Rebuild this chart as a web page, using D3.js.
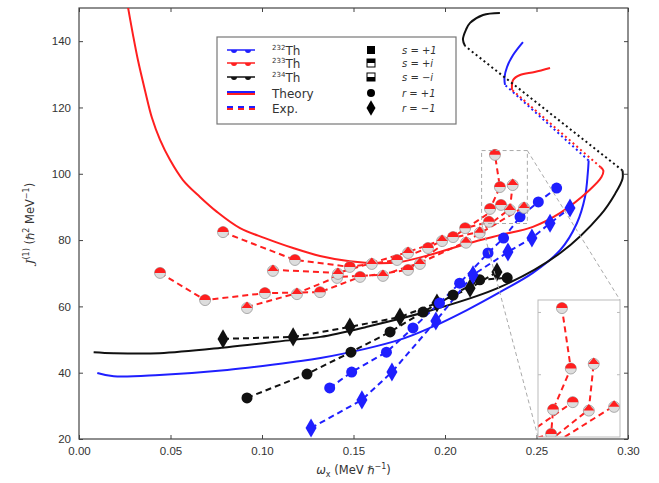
<!DOCTYPE html>
<html><head><meta charset="utf-8">
<script src="https://cdn.jsdelivr.net/npm/d3@7"></script>
<style>body{margin:0;background:#fff}svg{display:block;font-family:"DejaVu Sans",sans-serif}</style>
</head><body><svg id="chart" width="659" height="483"></svg>
<script>
// ---- axis ticks ----
const xTickValues = [0.00, 0.05, 0.10, 0.15, 0.20, 0.25, 0.30];
const yTickValues = [20, 40, 60, 80, 100, 120, 140];

// ---- theory curves: lower branch, unstable (dotted) branch, upper branch ----
const th232Low = [[0.010,39.9],[0.019,38.9],[0.044,39.3],[0.081,40.8],[0.117,43.2],[0.132,44.4],[0.175,49.9],[0.193,53.8],[0.212,58.9],[0.230,64.3],[0.248,70.1],[0.263,77.0],[0.272,85.0],[0.2765,93.0],[0.278,100.0],[0.2785,104.0]];
const th232Mid = [[0.2785,104.0],[0.2328,126.8]];
const th232Up  = [[0.2328,126.8],[0.2325,129.0],[0.2339,132.2],[0.2372,135.8],[0.2426,139.7]];

const th233Low = [[0.0262,152],[0.0295,141.9],[0.0322,134.3],[0.036,125.3],[0.0399,116.8],[0.0443,110.2],[0.0497,104.2],[0.0568,98.1],[0.0661,93.0],[0.0754,88.5],[0.088,83.6],[0.1016,80.6],[0.117,77.6],[0.1317,75.2],[0.148,73.6],[0.164,73.0],[0.1754,73.4],[0.1934,75.8],[0.212,78.9],[0.230,81.5],[0.248,84.0],[0.263,88.2],[0.279,95.1],[0.2855,99.0],[0.2865,101.0],[0.285,102.0]];
const th233Mid = [[0.285,102.0],[0.2366,125.3]];
const th233Up  = [[0.2366,125.3],[0.2372,128.3],[0.241,129.8],[0.249,130.7],[0.2574,131.9]];

const th234Low = [[0.008,46.2],[0.019,45.9],[0.044,45.9],[0.081,47.7],[0.117,49.9],[0.132,50.8],[0.157,53.8],[0.193,58.9],[0.230,65.8],[0.263,76.1],[0.285,87.6],[0.293,94.0],[0.297,98.5],[0.297,101.0]];
const th234Mid = [[0.297,101.0],[0.211,138.5]];
const th234Up  = [[0.211,138.5],[0.2098,140.5],[0.2115,143.5],[0.2137,145.5],[0.2208,147.9],[0.230,148.5]];

// ---- experimental bands ----
const exp232Rp = [[0.137,35.4],[0.149,40.2],[0.168,46.2],[0.1825,53.5],[0.197,61.0],[0.208,67.0],[0.2235,76.1],[0.232,80.6],[0.241,87.0],[0.251,91.5],[0.261,95.7]];
const exp232Rm = [[0.1268,23.3],[0.1546,31.8],[0.171,40.2],[0.195,55.6],[0.2153,69.5],[0.2344,76.4],[0.2475,80.6],[0.2574,85.1],[0.2683,89.7]];

const exp233aP = [[0.0787,82.4],[0.118,74.0],[0.148,71.9],[0.1738,74.0],[0.1907,77.6],[0.211,83.6],[0.224,85.5],[0.2246,89.4],[0.230,96.0],[0.2273,105.7]];
const exp233aM = [[0.106,71.0],[0.1415,70.1],[0.160,73.1],[0.1798,76.4],[0.1984,80.0],[0.219,82.5],[0.2355,89.4],[0.237,96.9]];
const exp233bP = [[0.0443,70.1],[0.0689,61.9],[0.1016,64.0],[0.1317,64.3],[0.1536,68.9],[0.1798,71.0],[0.2044,80.9],[0.2306,90.6]];
const exp233bM = [[0.0918,59.8],[0.1191,64.0],[0.141,68.9],[0.1661,69.5],[0.1863,73.1],[0.2115,79.5],[0.2432,90.0]];

const exp234Rp = [[0.0918,32.4],[0.1246,39.6],[0.1486,46.2],[0.170,52.3],[0.188,58.3],[0.2044,63.4],[0.219,68.0],[0.234,68.6]];
const exp234Rm = [[0.0787,50.2],[0.117,50.8],[0.148,53.8],[0.1754,56.8],[0.1956,61.0],[0.2137,65.5],[0.2284,70.4]];

// ---- legend ----
const isotopeMass = ["232", "233", "234"];
const styleNames = ["Theory", "Exp."];
const quantumLabels = ["s = +1", "s = +i", "s = −i", "r = +1", "r = −1"];

// ---- zoomed window ----
const insetX = [0.220, 0.245];
const insetY = [85, 107];

const BLUE = "#1f1fff", RED = "#ff1f1f", BLACK = "#111";
const svg = d3.select("#chart");
const W = 659, H = 483;
const M = {left: 79, right: 31, top: 8, bottom: 44};
const x = d3.scaleLinear().domain([0, 0.30]).range([M.left, W - M.right]);
const y = d3.scaleLinear().domain([20, 150]).range([H - M.bottom, M.top]);

svg.append("clipPath").attr("id", "plotclip").append("rect")
  .attr("x", M.left).attr("y", M.top).attr("width", W - M.left - M.right).attr("height", H - M.top - M.bottom);

// axes with inward ticks on all four sides
const axisColor = "#444";
function styleAxis(g) {
  g.select(".domain").remove();
  g.selectAll("line").attr("stroke", axisColor);
  g.selectAll("text").attr("fill", "#333").attr("font-size", 11.5);
}
svg.append("g").attr("transform", `translate(0,${y(20)})`)
  .call(d3.axisBottom(x).tickValues(xTickValues).tickFormat(d3.format(".2f")).tickSizeInner(-4).tickPadding(8))
  .call(styleAxis);
svg.append("g").attr("transform", `translate(0,${y(150)})`)
  .call(d3.axisTop(x).tickValues(xTickValues).tickFormat("").tickSizeInner(-4)).call(styleAxis);
svg.append("g").attr("transform", `translate(${x(0)},0)`)
  .call(d3.axisLeft(y).tickValues(yTickValues).tickSizeInner(-4).tickPadding(8))
  .call(styleAxis);
svg.append("g").attr("transform", `translate(${x(0.30)},0)`)
  .call(d3.axisRight(y).tickValues(yTickValues).tickFormat("").tickSizeInner(-4)).call(styleAxis);
svg.append("rect").attr("x", M.left).attr("y", M.top).attr("width", W - M.left - M.right).attr("height", H - M.top - M.bottom)
  .attr("fill", "none").attr("stroke", axisColor).attr("stroke-width", 1.2);

// axis titles
svg.append("text").attr("x", (x(0) + x(0.30)) / 2).attr("y", 474).attr("text-anchor", "middle")
  .attr("font-size", 11.5).attr("fill", "#333")
  .html('<tspan font-style="italic">ω</tspan><tspan font-size="8" dy="3">x</tspan><tspan dy="-3"> (MeV ℏ</tspan><tspan font-size="8" dy="-5">−1</tspan><tspan dy="5">)</tspan>');
svg.append("text").attr("transform", `translate(34,${(y(20) + y(150)) / 2}) rotate(-90)`).attr("text-anchor", "middle")
  .attr("font-size", 11.5).attr("fill", "#333")
  .html('<tspan font-style="italic" font-family="DejaVu Serif">J</tspan><tspan font-size="8" dy="-5">(1)</tspan><tspan dy="5"> (ℏ</tspan><tspan font-size="8" dy="-5">2</tspan><tspan dy="5"> MeV</tspan><tspan font-size="8" dy="-5">−1</tspan><tspan dy="5">)</tspan>');

const allBands = [
  [exp234Rp, BLACK, "circle"], [exp234Rm, BLACK, "diamond"],
  [exp232Rp, BLUE, "circle"], [exp232Rm, BLUE, "diamond"],
  [exp233bP, RED, "top"], [exp233bM, RED, "tri"],
  [exp233aP, RED, "top"], [exp233aM, RED, "tri"]
];
const oddBands = allBands.slice(4);

function drawAll(layer, sx, sy, withTheory, bands) {
  const line = d3.line().x(d => sx(d[0])).y(d => sy(d[1]));
  const smooth = d3.line().x(d => sx(d[0])).y(d => sy(d[1])).curve(d3.curveCatmullRom.alpha(0.5));
  const theory = [[th232Low, th232Mid, th232Up, BLUE], [th233Low, th233Mid, th233Up, RED], [th234Low, th234Mid, th234Up, BLACK]];
  if (withTheory) {
    theory.forEach(([lo, mid, up, c]) => {
      layer.append("path").attr("d", smooth(lo)).attr("fill", "none").attr("stroke", c).attr("stroke-width", 2);
      layer.append("path").attr("d", line(mid)).attr("fill", "none").attr("stroke", c).attr("stroke-width", 2).attr("stroke-dasharray", "2,3");
      layer.append("path").attr("d", smooth(up)).attr("fill", "none").attr("stroke", c).attr("stroke-width", 2);
    });
  }
  bands.forEach(([pts, c]) => {
    layer.append("path").attr("d", line(pts)).attr("fill", "none").attr("stroke", c)
      .attr("stroke-width", 2).attr("stroke-dasharray", "6,4");
  });
  bands.forEach(([pts, c, shape]) => {
    pts.forEach(p => drawMarker(layer, sx(p[0]), sy(p[1]), c, shape));
  });
}

function drawMarker(g, cx, cy, c, shape) {
  const r = 5.5;
  if (shape === "circle") {
    g.append("circle").attr("cx", cx).attr("cy", cy).attr("r", r).attr("fill", c);
  } else if (shape === "diamond") {
    g.append("path").attr("transform", `translate(${cx},${cy})`)
      .attr("d", d3.symbol(d3.symbolDiamond, 105)()).attr("fill", c);
  } else if (shape === "top") {
    g.append("circle").attr("cx", cx).attr("cy", cy).attr("r", r).attr("fill", "#ddd").attr("stroke", "#999").attr("stroke-width", 0.8);
    g.append("path").attr("d", `M${cx - r},${cy} A${r},${r} 0 0 1 ${cx + r},${cy} Z`).attr("fill", c);
  } else {
    g.append("circle").attr("cx", cx).attr("cy", cy + 1).attr("r", r).attr("fill", "#ddd").attr("stroke", "#999").attr("stroke-width", 0.8);
    g.append("path").attr("d", `M${cx - r},${cy + 1} L${cx},${cy - r} L${cx + r},${cy + 1} Z`).attr("fill", c);
  }
}

const main = svg.append("g").attr("clip-path", "url(#plotclip)");
drawAll(main, x, y, true, allBands);

// zoom window outline and connectors
const ins = {x0: 538, x1: 620, y0: 300, y1: 437};
const gray = "#aaa";
main.append("rect").attr("x", x(insetX[0])).attr("y", y(insetY[1]))
  .attr("width", x(insetX[1]) - x(insetX[0])).attr("height", y(insetY[0]) - y(insetY[1]))
  .attr("fill", "none").attr("stroke", gray).attr("stroke-dasharray", "4,3");
main.append("line").attr("x1", x(insetX[1])).attr("y1", y(insetY[1])).attr("x2", ins.x1).attr("y2", ins.y0)
  .attr("stroke", gray).attr("stroke-dasharray", "4,3");
main.append("line").attr("x1", x(insetX[0])).attr("y1", y(insetY[0])).attr("x2", ins.x0).attr("y2", ins.y1)
  .attr("stroke", gray).attr("stroke-dasharray", "4,3");

// inset axes (odd-A bands only)
const xi = d3.scaleLinear().domain(insetX).range([ins.x0, ins.x1]);
const yi = d3.scaleLinear().domain(insetY).range([ins.y1, ins.y0]);
svg.append("clipPath").attr("id", "insetclip").append("rect")
  .attr("x", ins.x0).attr("y", ins.y0).attr("width", ins.x1 - ins.x0).attr("height", ins.y1 - ins.y0);
svg.append("rect").attr("x", ins.x0).attr("y", ins.y0).attr("width", ins.x1 - ins.x0).attr("height", ins.y1 - ins.y0).attr("fill", "#fff");
const inset = svg.append("g").attr("clip-path", "url(#insetclip)");
drawAll(inset, xi, yi, false, oddBands);
svg.append("rect").attr("x", ins.x0).attr("y", ins.y0).attr("width", ins.x1 - ins.x0).attr("height", ins.y1 - ins.y0)
  .attr("fill", "none").attr("stroke", "#bbb");
[95, 105].forEach(v => {
  svg.append("line").attr("x1", ins.x1).attr("x2", ins.x1 - 3).attr("y1", yi(v)).attr("y2", yi(v)).attr("stroke", "#bbb");
  svg.append("line").attr("x1", ins.x0).attr("x2", ins.x0 + 3).attr("y1", yi(v)).attr("y2", yi(v)).attr("stroke", "#bbb");
});

// legend
const lg = svg.append("g");
lg.append("rect").attr("x", 217).attr("y", 37).attr("width", 239).attr("height", 87)
  .attr("fill", "#fff").attr("stroke", "#777").attr("stroke-width", 1.2);
const rowY = [50, 63, 77, 93, 108];
const isoColors = [BLUE, RED, BLACK];
isotopeMass.forEach((n, i) => {
  const yy = rowY[i];
  lg.append("line").attr("x1", 227).attr("x2", 255).attr("y1", yy).attr("y2", yy).attr("stroke", isoColors[i]).attr("stroke-width", 1.5);
  [234, 248].forEach(cx => lg.append("path").attr("d", `M${cx - 3},${yy} A3,3 0 0 0 ${cx + 3},${yy} Z`).attr("fill", isoColors[i]));
  const t = lg.append("text").attr("x", 272).attr("y", yy + 5).attr("font-size", 12).attr("fill", "#333");
  t.append("tspan").attr("font-size", 7).attr("dy", -5).text(n);
  t.append("tspan").attr("dy", 5).text("Th");
});
// Theory: solid, Exp.: dashed
lg.append("line").attr("x1", 227).attr("x2", 255).attr("y1", rowY[3] - 1).attr("y2", rowY[3] - 1).attr("stroke", BLUE).attr("stroke-width", 2);
lg.append("line").attr("x1", 227).attr("x2", 255).attr("y1", rowY[3] + 1).attr("y2", rowY[3] + 1).attr("stroke", RED).attr("stroke-width", 2);
lg.append("line").attr("x1", 227).attr("x2", 255).attr("y1", rowY[4] - 1).attr("y2", rowY[4] - 1).attr("stroke", BLUE).attr("stroke-width", 2).attr("stroke-dasharray", "6,5");
lg.append("line").attr("x1", 227).attr("x2", 255).attr("y1", rowY[4] + 1).attr("y2", rowY[4] + 1).attr("stroke", RED).attr("stroke-width", 2).attr("stroke-dasharray", "6,5");
styleNames.forEach((n, i) => lg.append("text").attr("x", 272).attr("y", rowY[3 + i] + 5).attr("font-size", 12).attr("fill", "#333").text(n));

// quantum number markers
const mx = 371;
lg.append("rect").attr("x", mx - 4).attr("y", rowY[0] - 4).attr("width", 8).attr("height", 8).attr("fill", "#000");
lg.append("rect").attr("x", mx - 4).attr("y", rowY[1] - 4).attr("width", 8).attr("height", 8).attr("fill", "#fff").attr("stroke", "#000");
lg.append("rect").attr("x", mx - 4).attr("y", rowY[1] - 4).attr("width", 8).attr("height", 4).attr("fill", "#000");
lg.append("rect").attr("x", mx - 4).attr("y", rowY[2] - 4).attr("width", 8).attr("height", 8).attr("fill", "#fff").attr("stroke", "#000");
lg.append("rect").attr("x", mx - 4).attr("y", rowY[2]).attr("width", 8).attr("height", 4).attr("fill", "#000");
lg.append("circle").attr("cx", mx).attr("cy", rowY[3]).attr("r", 4).attr("fill", "#000");
lg.append("path").attr("transform", `translate(${mx},${rowY[4]})`).attr("d", d3.symbol(d3.symbolDiamond, 70)()).attr("fill", "#000");
quantumLabels.forEach((t, i) => lg.append("text").attr("x", 402).attr("y", rowY[i] + 4).attr("font-size", 10).attr("fill", "#333").attr("font-style", "italic").text(t));
</script></body></html>
